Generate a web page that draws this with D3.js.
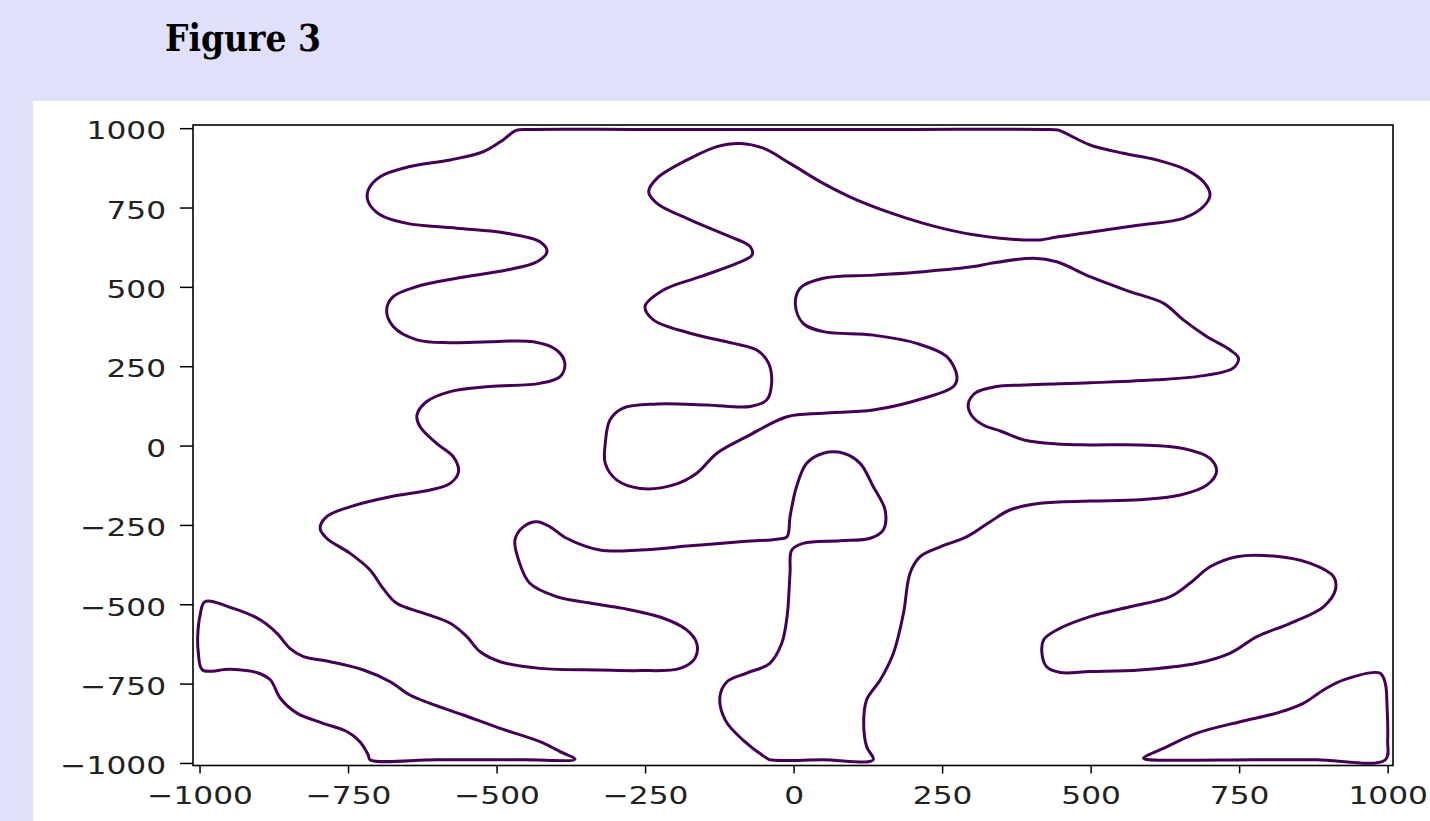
<!DOCTYPE html>
<html>
<head>
<meta charset="utf-8">
<script src="https://cdn.jsdelivr.net/npm/d3@7"></script>
<style>
  html, body { margin: 0; padding: 0; background: #e0e0fb; }
  svg { display: block; }
</style>
</head>
<body>
<svg id="fig" width="1430" height="821"></svg>
<script>
// Tick positions on both axes
const xTicks = [-1000, -750, -500, -250, 0, 250, 500, 750, 1000];
const yTicks = [-1000, -750, -500, -250, 0, 250, 500, 750, 1000];

// Contour outlines, [x, y] in data units, each one a closed path
const mainOutline = [
  [-467, 993], [-489, 963], [-522, 926], [-578, 900], [-646, 879], [-696, 847], [-716, 805], [-716, 768],
  [-696, 727], [-651, 700], [-567, 685], [-483, 669], [-427, 642], [-415, 611], [-432, 579], [-483, 553],
  [-567, 527], [-634, 501], [-674, 469], [-685, 427], [-674, 375], [-634, 333], [-578, 324], [-511, 327],
  [-438, 327], [-399, 301], [-385, 259], [-393, 217], [-427, 196], [-511, 186], [-578, 170], [-618, 138],
  [-634, 96], [-629, 60], [-601, 7], [-573, -35], [-564, -82], [-578, -119], [-612, -140], [-679, -161],
  [-747, -193], [-786, -224], [-797, -261], [-786, -292], [-747, -339], [-713, -392], [-691, -450],
  [-668, -497], [-623, -528], [-578, -560], [-550, -602], [-528, -649], [-494, -681], [-427, -702],
  [-326, -707], [-258, -709], [-191, -702], [-166, -670], [-163, -623], [-180, -581], [-219, -544],
  [-287, -513], [-343, -496], [-399, -476], [-444, -434], [-463, -360], [-469, -297], [-455, -256],
  [-432, -240], [-410, -256], [-382, -292], [-326, -329], [-258, -329], [-174, -316], [-90, -303],
  [-28, -295], [-11, -287], [-6, -224], [5, -129], [22, -56], [50, -24], [84, -24], [112, -56],
  [134, -129], [154, -203], [151, -266], [129, -292], [78, -300], [16, -308], [-3, -329], [-6, -402],
  [-11, -539], [-20, -623], [-40, -686], [-79, -717], [-112, -744], [-124, -791], [-115, -865],
  [-85, -928], [-45, -985], [-40, -990], [50, -990], [134, -990], [123, -949], [118, -875], [123, -801],
  [146, -738], [168, -654], [185, -528], [196, -402], [213, -350], [247, -319], [292, -287], [331, -240],
  [364, -203], [415, -182], [499, -175], [583, -171], [651, -156], [696, -124], [712, -82], [701, -40],
  [656, -9], [583, 2], [499, 2], [443, 5], [387, 18], [348, 46], [320, 64], [300, 94], [294, 130],
  [306, 166], [339, 185], [387, 191], [499, 198], [611, 207], [696, 222], [740, 244], [749, 275],
  [735, 301], [696, 343], [656, 396], [623, 448], [566, 485], [499, 532], [443, 579], [404, 590],
  [331, 574], [303, 564], [219, 548], [134, 537], [50, 527], [11, 496], [3, 443], [16, 385], [50, 359],
  [134, 348], [207, 322], [258, 280], [275, 217], [269, 186], [219, 149], [134, 112], [50, 102],
  [-11, 91], [-79, 28], [-129, -24], [-163, -87], [-202, -124], [-258, -135], [-298, -108], [-317, -56],
  [-317, 7], [-309, 81], [-287, 118], [-230, 131], [-146, 128], [-73, 123], [-45, 144], [-37, 196],
  [-42, 259], [-62, 301], [-101, 322], [-174, 354], [-236, 396], [-250, 438], [-219, 490], [-157, 532],
  [-96, 574], [-70, 600], [-73, 627], [-107, 658], [-174, 711], [-230, 763], [-244, 800], [-230, 842],
  [-174, 905], [-129, 942], [-90, 952], [-51, 937], [-6, 889], [50, 826], [106, 774], [191, 716],
  [275, 674], [348, 653], [387, 648], [415, 648], [443, 657], [499, 672], [583, 695], [656, 716],
  [690, 753], [701, 790], [690, 831], [662, 868], [611, 900], [555, 921], [499, 947], [460, 982],
  [445, 994], [420, 996], [200, 996], [0, 996], [-250, 996], [-445, 996]
];

const lowerLeftLobe = [
  [-991, -492], [-943, -513], [-898, -549], [-870, -591], [-848, -639], [-825, -665], [-780, -681],
  [-724, -707], [-679, -744], [-646, -786], [-612, -812], [-556, -849], [-494, -891], [-427, -933],
  [-393, -964], [-368, -988], [-455, -990], [-600, -990], [-713, -990], [-716, -975], [-730, -933],
  [-752, -901], [-792, -875], [-836, -843], [-864, -796], [-881, -738], [-904, -715], [-949, -705],
  [-995, -707], [-1002, -653], [-1003, -597], [-999, -534]
];

const lowerRightWedge = [
  [589, -985], [628, -949], [679, -906], [752, -870], [813, -843], [858, -812], [892, -770],
  [926, -738], [987, -717], [996, -749], [999, -823], [1000, -928], [996, -990], [880, -990],
  [780, -990], [595, -989]
];

const rightIsland = [
  [421, -612], [443, -581], [499, -539], [566, -508], [634, -476], [667, -434], [701, -382],
  [746, -350], [808, -348], [870, -371], [909, -413], [912, -455], [892, -508], [836, -560],
  [780, -602], [735, -654], [679, -686], [583, -707], [499, -712], [449, -715], [426, -697],
  [418, -654]
];

const outlines = [mainOutline, lowerLeftLobe, lowerRightWedge, rightIsland];

const svg = d3.select("#fig");

// Title band and white figure panel
svg.append("text")
  .attr("x", 165).attr("y", 51)
  .attr("font-family", "'DejaVu Serif', serif")
  .attr("font-weight", "bold")
  .attr("font-size", 38)
  .attr("textLength", 156)
  .attr("lengthAdjust", "spacingAndGlyphs")
  .attr("fill", "#000")
  .text("Figure 3");

svg.append("rect")
  .attr("x", 33).attr("y", 101)
  .attr("width", 1397).attr("height", 720)
  .attr("fill", "#ffffff");

// Plot area
const plotLeft = 193, plotRight = 1393, plotTop = 125, plotBottom = 765.5;
const x = d3.scaleLinear().domain([-1011, 1009]).range([plotLeft, plotRight]);
const y = d3.scaleLinear().domain([-1008, 1010]).range([plotBottom, plotTop]);

const line = d3.line()
  .x(d => x(d[0]))
  .y(d => y(d[1]))
  .curve(d3.curveCatmullRomClosed.alpha(0.5));

svg.append("g")
  .selectAll("path")
  .data(outlines)
  .join("path")
  .attr("d", line)
  .attr("fill", "none")
  .attr("stroke", "#440154")
  .attr("stroke-width", 3)
  .attr("stroke-linejoin", "round");

// Axes
const sx = 1.25;  // horizontal stretch of tick labels
const fmt = d3.format("d");

const gx = svg.append("g")
  .attr("transform", `translate(0,${plotBottom})`)
  .call(d3.axisBottom(x).tickValues(xTicks).tickFormat(fmt).tickSize(8).tickPadding(13));

const gy = svg.append("g")
  .attr("transform", `translate(${plotLeft},0)`)
  .call(d3.axisLeft(y).tickValues(yTicks).tickFormat(fmt).tickSize(13).tickPadding(14));

[gx, gy].forEach(g => {
  g.select(".domain").remove();
  g.selectAll(".tick line").attr("stroke", "#000").attr("stroke-width", 1.5);
  g.selectAll(".tick text")
    .attr("font-family", "'DejaVu Sans', sans-serif")
    .attr("font-size", 25)
    .attr("fill", "#222");
});

gx.selectAll(".tick text")
  .attr("transform", `scale(${sx},1)`);

gy.selectAll(".tick text")
  .attr("x", -27 / sx)
  .attr("dy", "0.43em")
  .attr("transform", `scale(${sx},1)`);

// Frame
svg.append("rect")
  .attr("x", plotLeft).attr("y", plotTop)
  .attr("width", plotRight - plotLeft).attr("height", plotBottom - plotTop)
  .attr("fill", "none")
  .attr("stroke", "#000")
  .attr("stroke-width", 1.6);
</script>
</body>
</html>
